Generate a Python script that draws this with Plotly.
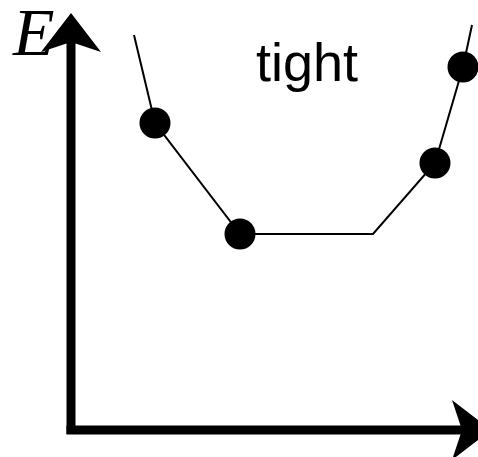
import plotly.graph_objects as go

# Energy curve (x = configuration coordinate, E = energy), arbitrary units
curve_x = [6.4, 8.5, 17.0, 30.3, 36.5, 39.3, 40.2]
curve_E = [39.5, 30.7, 19.6, 19.6, 26.7, 36.3, 40.5]

# Sampled points (dots)
dot_x = [8.5, 17.0, 36.5, 39.3]
dot_E = [30.7, 19.6, 26.7, 36.3]

label_text = "tight"
y_label = "E"

# axis extent (data units)
x_range = [-7.0, 40.8]
y_range = [-2.7, 43.0]
axis_x0 = 0.1          # vertical axis position
axis_y0 = 0.0          # horizontal axis position
axis_x_tip = 42.1
axis_y_tip = 41.7
head_len = 3.9
head_half = 3.0
head_notch = 2.9

fig = go.Figure()

fig.add_trace(go.Scatter(x=curve_x, y=curve_E, mode="lines",
                         line=dict(color="black", width=2), hoverinfo="skip"))
fig.add_trace(go.Scatter(x=dot_x, y=dot_E, mode="markers",
                         marker=dict(color="black", size=31, line=dict(width=0)),
                         hoverinfo="skip"))

shapes = []
# axis shafts
shapes.append(dict(type="line", xref="x", yref="y", x0=axis_x0, x1=axis_x0,
                   y0=axis_y0 - 0.4, y1=axis_y_tip - head_notch,
                   line=dict(color="black", width=9)))
shapes.append(dict(type="line", xref="x", yref="y", x0=axis_x0 - 0.45, x1=axis_x_tip - head_notch,
                   y0=axis_y0, y1=axis_y0, line=dict(color="black", width=9)))
# arrow heads (barbed)
up = (f"M{axis_x0},{axis_y_tip} L{axis_x0 + head_half},{axis_y_tip - head_len} "
      f"L{axis_x0},{axis_y_tip - head_notch} L{axis_x0 - head_half},{axis_y_tip - head_len} Z")
right = (f"M{axis_x_tip},{axis_y0} L{axis_x_tip - head_len},{axis_y0 + head_half} "
         f"L{axis_x_tip - head_notch},{axis_y0} L{axis_x_tip - head_len},{axis_y0 - head_half} Z")
for p in (up, right):
    shapes.append(dict(type="path", xref="x", yref="y", path=p,
                       fillcolor="black", line=dict(color="black", width=0)))

fig.update_layout(
    width=478, height=457,
    margin=dict(l=0, r=0, t=0, b=0),
    paper_bgcolor="white", plot_bgcolor="white",
    showlegend=False,
    shapes=shapes,
    xaxis=dict(range=x_range, visible=False, fixedrange=True),
    yaxis=dict(range=y_range, visible=False, fixedrange=True),
    annotations=[
        dict(x=23.7, y=36.8, xref="x", yref="y",
             text=label_text, showarrow=False, xanchor="center", yanchor="middle",
             font=dict(family="Liberation Sans, Arial", size=54, color="black")),
        dict(x=-3.7, y=39.8, xref="x", yref="y",
             text=f"<i>{y_label}</i>", showarrow=False, xanchor="center", yanchor="middle",
             font=dict(family="Liberation Serif, Times New Roman", size=68, color="black")),
    ],
)

fig.write_html("out.html", config={"displayModeBar": False},
               post_script="document.body.style.margin='0';document.body.style.overflow='hidden';")
